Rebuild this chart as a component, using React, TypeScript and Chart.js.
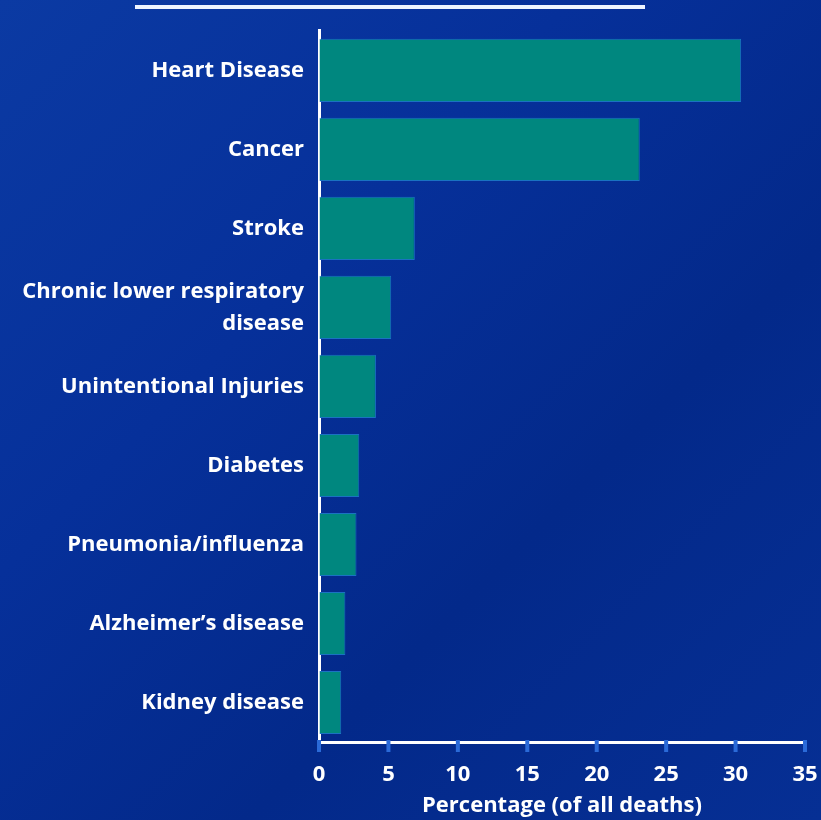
import { useEffect, useRef } from "react";
import { Chart, registerables } from "chart.js";

Chart.register(...registerables);

const categories: (string | string[])[] = [
  "Heart Disease",
  "Cancer",
  "Stroke",
  ["Chronic lower respiratory", "disease"],
  "Unintentional Injuries",
  "Diabetes",
  "Pneumonia/influenza",
  "Alzheimer\u2019s disease",
  "Kidney disease",
];
const percentages = [30.4, 23.1, 6.9, 5.2, 4.1, 2.9, 2.7, 1.9, 1.6];
const xTickValues = [0, 5, 10, 15, 20, 25, 30, 35];
const xAxisTitle = "Percentage (of all deaths)";

const FONT = "'Open Sans', 'Noto Sans', sans-serif";

const backgroundPlugin = {
  id: "bgPlugin",
  beforeDraw(chart: any) {
    const { ctx, width, height } = chart;
    ctx.save();
    const g = ctx.createLinearGradient(0, 0, width, height);
    g.addColorStop(0, "#0b3aa3");
    g.addColorStop(0.35, "#06309a");
    g.addColorStop(0.65, "#03298a");
    g.addColorStop(1, "#062f94");
    ctx.fillStyle = g;
    ctx.fillRect(0, 0, width, height);
    // top decorative rule
    ctx.strokeStyle = "#eef4ff";
    ctx.lineWidth = 4;
    ctx.beginPath();
    ctx.moveTo(135, 7);
    ctx.lineTo(645, 7);
    ctx.stroke();
    ctx.restore();
  },
  afterDraw(chart: any) {
    const { ctx } = chart;
    const xs = chart.scales.x;
    ctx.save();
    ctx.fillStyle = "#2a6ad8";
    xTickValues.forEach((v) => {
      const px = xs.getPixelForValue(v);
      ctx.fillRect(px - 2, xs.top - 2, 4, 12);
    });
    ctx.restore();
  },
};

export default function App() {
  const ref = useRef<HTMLCanvasElement | null>(null);
  useEffect(() => {
    if (!ref.current) return;
    const chart = new Chart(ref.current, {
      type: "bar",
      data: {
        labels: categories,
        datasets: [
          {
            data: percentages,
            backgroundColor: "#00877f",
            borderColor: "#1a72c2",
            borderWidth: 1,
            barPercentage: 0.8,
            categoryPercentage: 1,
          },
        ],
      },
      options: {
        indexAxis: "y",
        animation: false,
        responsive: false,
        devicePixelRatio: 1,
        layout: { padding: { top: 28, right: 0, bottom: 0, left: 0 } },
        plugins: { legend: { display: false }, tooltip: { enabled: false } },
        scales: {
          x: {
            min: 0,
            max: 35,
            afterFit: (s: any) => {
              s.height = 78;
              s.paddingRight = 16;
              s.paddingLeft = 0;
            },
            afterBuildTicks: (s: any) => {
              s.ticks = xTickValues.map((v) => ({ value: v }));
            },
            ticks: {
              color: "#ffffff",
              font: { family: FONT, size: 22, weight: "700" },
              padding: 10,
              maxRotation: 0,
            },
            grid: {
              display: true,
              drawOnChartArea: false,
              drawTicks: true,
              tickLength: 10,
              color: "rgba(0,0,0,0)",
            },
            border: { display: true, color: "#ffffff", width: 3 },
            title: {
              display: true,
              text: xAxisTitle,
              color: "#ffffff",
              font: { family: FONT, size: 22, weight: "700" },
              padding: { top: 0, bottom: 1 },
            },
          },
          y: {
            afterFit: (s: any) => {
              s.width = 319;
            },
            ticks: {
              color: "#ffffff",
              font: { family: FONT, size: 22, weight: "700", lineHeight: 1.45 },
              padding: 15,
              autoSkip: false,
            },
            grid: { display: false, drawTicks: false },
            border: { display: true, color: "#ffffff", width: 3 },
          },
        },
      },
      plugins: [backgroundPlugin],
    });
    return () => chart.destroy();
  }, []);
  return (
    <div style={{ position: "fixed", left: 0, top: 0, width: 821, height: 820 }}>
      <canvas ref={ref} width={821} height={820} style={{ display: "block" }} />
    </div>
  );
}
